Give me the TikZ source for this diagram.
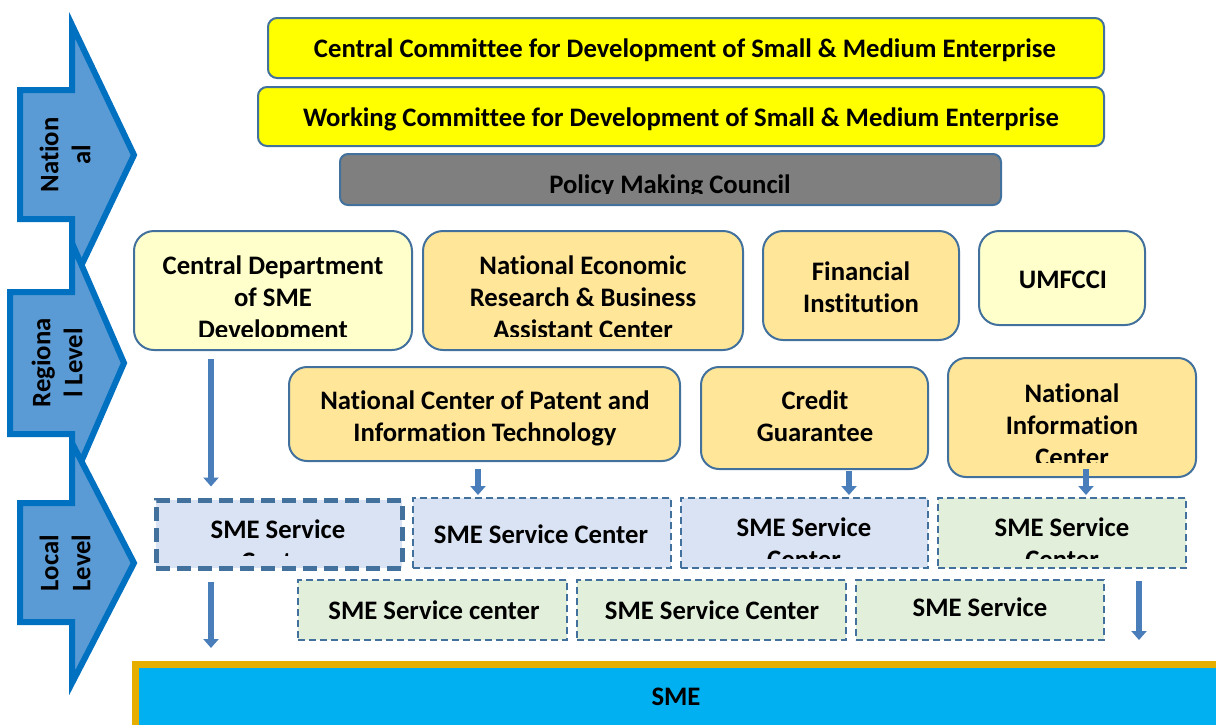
\documentclass[tikz,border=0pt]{standalone}
\usepackage{fontspec}
\setmainfont{Carlito}[Ligatures=NoCommon]
\usetikzlibrary{arrows.meta,fit}
\definecolor{bordc}{HTML}{41719C}
\definecolor{yel}{HTML}{FFFF00}
\definecolor{polg}{HTML}{7F7F7F}
\definecolor{lyel}{HTML}{FFFFCC}
\definecolor{orng}{HTML}{FFE699}
\definecolor{lblue}{HTML}{DAE3F3}
\definecolor{lgreen}{HTML}{E2EFDA}
\definecolor{arrfill}{HTML}{5B9BD5}
\definecolor{arrline}{HTML}{0070C0}
\definecolor{smeblue}{HTML}{00B0F0}
\definecolor{smegold}{HTML}{E6AF00}
\definecolor{conn}{HTML}{4A7EBB}
\begin{document}
\begin{tikzpicture}[x=1pt,y=-1pt,
  box/.style={draw=bordc, line width=2pt, inner sep=0pt},
  topbox/.style={box, fill=yel, rounded corners=9pt},
  polbox/.style={box, fill=polg, rounded corners=8pt},
  ybox/.style={box, fill=lyel, rounded corners=20pt},
  obox/.style={box, fill=orng, rounded corners=20pt},
  bsvc/.style={box, fill=lblue, dash pattern=on 7pt off 4pt},
  gsvc/.style={box, fill=lgreen, dash pattern=on 7pt off 4pt},
  thicksvc/.style={box, fill=lblue, line width=5pt, dash pattern=on 14pt off 7pt},
  txt/.style={font=\fontsize{26.7}{32}\selectfont\bfseries, align=center, inner sep=0pt},
  level/.style={draw=arrline, fill=arrfill, line width=6pt, line join=miter, miter limit=10},
  ltxt/.style={txt, rotate=90},
  conn/.style={draw=conn, line width=5.5pt, -{Triangle[width=15pt,length=9pt]}}]
\clip (0,0) rectangle (1216,724);
\fill[white] (0,0) rectangle (1216,724);

% level arrows
\draw[level] (20,90) -- (72,90) -- (72,25) -- (134,155) -- (72,285) -- (72,219) -- (20,219) -- cycle;
\node[ltxt] (tnat) at (68,155) {\strut Nation\\\strut al};
\draw[level] (10,292) -- (72,292) -- (72,243) -- (124,363) -- (72,483) -- (72,434) -- (10,434) -- cycle;
\node[ltxt] (treg) at (60,363) {\strut Regiona\\\strut l Level};
\draw[level] (20,503) -- (72,503) -- (72,443) -- (134,563) -- (72,683) -- (72,622) -- (20,622) -- cycle;
\node[ltxt] (tloc) at (68,563) {\strut Local\\\strut Level};

% national level boxes
\node[topbox, fit={(268,18) (1104,78)}] (cc) {};
\node[txt] (tcc) at (685,51) {\strut Central Committee for Development of Small \& Medium Enterprise};
\node[topbox, fit={(258,87) (1104,146)}] (wc) {};
\node[txt] (twc) at (681,120) {\strut Working Committee for Development of Small \& Medium Enterprise};
\node[polbox, fit={(340,154) (1001,205)}] (pmc) {};
\begin{scope}
  \clip (340,154) rectangle (1001,193);
  \node[txt] (tpmc) at (670,187) {\strut Policy Making Council};
\end{scope}

% regional row 1
\node[ybox, fit={(134,231) (412,350)}] (cd) {};
\begin{scope}
  \clip (134,231) rectangle (412,336);
  \node[txt] (tcd) at (273,300) {\strut Central Department\\\strut of SME\\\strut Development};
\end{scope}
\node[obox, fit={(423,231) (743,350)}] (ne) {};
\begin{scope}
  \clip (423,231) rectangle (743,336);
  \node[txt] (tne) at (583,300) {\strut National Economic\\\strut Research \& Business\\\strut Assistant Center};
\end{scope}
\node[obox, fit={(763,231) (959,340)}] (fi) {};
\node[txt] (tfi) at (861,290.5) {\strut Financial\\\strut Institution};
\node[ybox, fit={(979,231) (1145,325)}] (um) {};
\node[txt] (tum) at (1063,282) {\strut UMFCCI};

% regional row 2
\node[obox, rounded corners=18pt, fit={(289,367) (680,461)}] (pat) {};
\node[txt] (tpat) at (485,419) {\strut National Center of Patent and\\\strut Information Technology};
\node[obox, rounded corners=18pt, fit={(701,367) (928,469)}] (cg) {};
\node[txt] (tcg) at (815,419) {\strut Credit\\\strut Guarantee};
\node[obox, rounded corners=18pt, fit={(948,358) (1196,477)}] (nic) {};
\begin{scope}
  \clip (948,358) rectangle (1196,462);
  \node[txt] (tnic) at (1072,428) {\strut National\\\strut Information\\\strut Center};
\end{scope}

% local row 3
\node[thicksvc, fit={(156,500) (402,568)}] (s1) {};
\begin{scope}
  \clip (156,500) rectangle (402,555);
  \node[txt] (ts1) at (278,548) {\strut SME Service\\\strut Center};
\end{scope}
\node[bsvc, fit={(413,498) (671,568)}] (s2) {};
\node[txt] (ts2) at (541,537) {\strut SME Service Center};
\node[bsvc, fit={(681,498) (928,568)}] (s3) {};
\begin{scope}
  \clip (681,498) rectangle (928,558);
  \node[txt] (ts3) at (804,546.5) {\strut SME Service\\\strut Center};
\end{scope}
\node[gsvc, fit={(938,498) (1186,568)}] (s4) {};
\begin{scope}
  \clip (938,498) rectangle (1186,558);
  \node[txt] (ts4) at (1062,546.5) {\strut SME Service\\\strut Center};
\end{scope}

% local row 4
\node[gsvc, fit={(298,580) (567,640)}] (s5) {};
\node[txt] (ts5) at (434,613) {\strut SME Service center};
\node[gsvc, fit={(577,580) (846,640)}] (s6) {};
\node[txt] (ts6) at (712,613) {\strut SME Service Center};
\node[gsvc, fit={(856,580) (1104,640)}] (s7) {};
\node[txt] (ts7) at (980,610) {\strut SME Service};

% SME
\node[draw=smegold, fill=smeblue, line width=7pt, inner sep=0pt, fit={(135,664) (1224,730)}] (sme) {};
\node[txt] (tsme) at (676,699) {\strut SME};

% connectors
\coordinate (e5) at (211,648);
\coordinate (e6) at (1139,640);
\draw[conn] ([yshift=-8pt]cd.south -| 211,0) -- ([yshift=11pt]s1.north -| 211,0);
\draw[conn] ([yshift=-7pt]pat.south -| 478,0) -- ([yshift=2pt]s2.north -| 478,0);
\draw[conn] ([yshift=-1pt]cg.south -| 849,0) -- ([yshift=2pt]s3.north -| 849,0);
\draw[conn] ([yshift=9pt]nic.south -| 1086,0) -- ([yshift=2pt]s4.north -| 1086,0);
\draw[conn] ([yshift=-11pt]s1.south -| 211,0) -- (e5);
\draw[conn] ([yshift=-12pt]s4.south -| 1139,0) -- (e6);
\end{tikzpicture}
\end{document}
